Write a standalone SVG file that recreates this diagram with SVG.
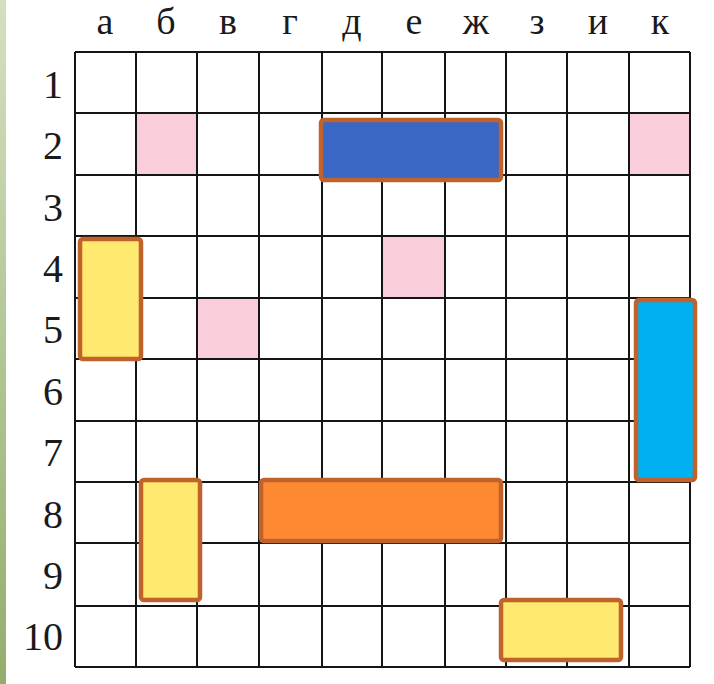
<svg xmlns="http://www.w3.org/2000/svg" width="714" height="684" viewBox="0 0 714 684">
<defs>
<linearGradient id="band" x1="0" y1="0" x2="0" y2="1">
<stop offset="0" stop-color="#d3e0c0"/>
<stop offset="1" stop-color="#94ad6c"/>
</linearGradient>
<style>
.lbl{font-family:"Liberation Serif","Times New Roman",serif;font-size:40px;fill:#1a1a1a}
.col{text-anchor:middle;font-size:38px}
.row{text-anchor:end}
.grid line{stroke:#151515;stroke-width:2}
.pink{fill:#f9cdda}
.ship{stroke:#bf622b;stroke-width:4.5}
</style>
</defs>
<rect x="0" y="0" width="714" height="684" fill="#ffffff"/>
<rect x="0" y="0" width="6" height="684" fill="url(#band)"/>
<g id="col-labels" class="lbl col">
<text x="105" y="34">а</text>
<text x="166" y="34">б</text>
<text x="228" y="34">в</text>
<text x="290" y="34">г</text>
<text x="352" y="34">д</text>
<text x="414" y="34">е</text>
<text x="476" y="34">ж</text>
<text x="537" y="34">з</text>
<text x="598" y="34">и</text>
<text x="660" y="34">к</text>
</g>
<g id="row-labels" class="lbl row">
<text x="63" y="98">1</text>
<text x="63" y="159">2</text>
<text x="63" y="221">3</text>
<text x="63" y="282">4</text>
<text x="63" y="343">5</text>
<text x="63" y="405">6</text>
<text x="63" y="466">7</text>
<text x="63" y="528">8</text>
<text x="63" y="589">9</text>
<text x="63" y="650">10</text>
</g>
<g id="marks">
<rect class="pink" x="137" y="114" width="60" height="61"/>
<rect class="pink" x="630" y="114" width="60" height="61"/>
<rect class="pink" x="383" y="237" width="62" height="61"/>
<rect class="pink" x="198" y="299" width="61" height="60"/>
</g>
<g id="grid" class="grid">
<line x1="75" y1="52" x2="75" y2="667"/>
<line x1="136" y1="52" x2="136" y2="667"/>
<line x1="197" y1="52" x2="197" y2="667"/>
<line x1="259" y1="52" x2="259" y2="667"/>
<line x1="322" y1="52" x2="322" y2="667"/>
<line x1="382" y1="52" x2="382" y2="667"/>
<line x1="445" y1="52" x2="445" y2="667"/>
<line x1="506" y1="52" x2="506" y2="667"/>
<line x1="567" y1="52" x2="567" y2="667"/>
<line x1="629" y1="52" x2="629" y2="667"/>
<line x1="690" y1="52" x2="690" y2="667"/>
<line x1="75" y1="52" x2="690" y2="52"/>
<line x1="75" y1="113" x2="690" y2="113"/>
<line x1="75" y1="175" x2="690" y2="175"/>
<line x1="75" y1="236" x2="690" y2="236"/>
<line x1="75" y1="298" x2="690" y2="298"/>
<line x1="75" y1="359" x2="690" y2="359"/>
<line x1="75" y1="421" x2="690" y2="421"/>
<line x1="75" y1="482" x2="690" y2="482"/>
<line x1="75" y1="543" x2="690" y2="543"/>
<line x1="75" y1="606" x2="690" y2="606"/>
<line x1="75" y1="667" x2="690" y2="667"/>
</g>
<g id="ship-d2"><rect class="ship" x="321" y="120" width="180" height="60" rx="3" fill="#3a66c4"/></g>
<g id="ship-a4"><rect class="ship" x="80" y="239" width="61" height="120" rx="3" fill="#ffe970"/></g>
<g id="ship-k5"><rect class="ship" x="636" y="300" width="59" height="180" rx="3" fill="#00b0f0"/></g>
<g id="ship-b8"><rect class="ship" x="141" y="480" width="59" height="120" rx="3" fill="#ffe970"/></g>
<g id="ship-g8"><rect class="ship" x="261" y="480" width="240" height="61" rx="3" fill="#ff8833"/></g>
<g id="ship-z10"><rect class="ship" x="501" y="600" width="120" height="60" rx="3" fill="#ffe970"/></g>
</svg>
